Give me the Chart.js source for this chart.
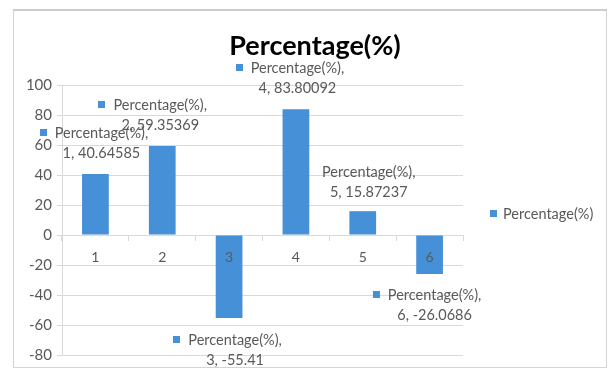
<!DOCTYPE html>
<html>
<head>
<meta charset="utf-8">
<script src="https://cdn.jsdelivr.net/npm/chart.js@4/dist/chart.umd.min.js"></script>
<style>
  html, body { margin: 0; padding: 0; background: #fff; }
  #wrap { width: 615px; height: 371px; position: relative; }
</style>
</head>
<body>
<div id="wrap"><canvas id="c" width="615" height="371"></canvas></div>
<script>
// Series data
const seriesName = 'Percentage(%)';
const categories = ['1', '2', '3', '4', '5', '6'];
const percentages = [40.64585, 59.35369, -55.41, 83.80092, 15.87237, -26.0686];
const yTickValues = [-80, -60, -40, -20, 0, 20, 40, 60, 80, 100];

const barColor = '#4690d8';
const textColor = '#595959';
const gridColor = '#d9d9d9';
const fontFamily = 'Lato, "Liberation Sans", sans-serif';

// Callout placement relative to each bar's end (label style: series, category, value)
const calloutOffsets = [
  { dx: 6,   dy: -41, key: true },
  { dx: -2,  dy: -41, key: true },
  { dx: 6,   dy: 22,  key: true },
  { dx: 1.5, dy: -41, key: true },
  { dx: 6,   dy: -39, key: false },
  { dx: 5,   dy: 21,  key: true }
];

// Outer frame and the chart title, centred over the whole frame
const framePlugin = {
  id: 'frame',
  beforeDraw(chart) {
    const ctx = chart.ctx;
    ctx.save();
    ctx.fillStyle = '#fff';
    ctx.fillRect(0, 0, chart.width, chart.height);
    ctx.strokeStyle = '#d4d4d4';
    ctx.lineWidth = 1;
    ctx.strokeRect(13.5, 10.5, 593, 357);
    ctx.strokeStyle = '#cccccc';
    ctx.lineWidth = 2;
    ctx.beginPath();
    ctx.moveTo(13, 10);
    ctx.lineTo(607, 10);
    ctx.stroke();

    ctx.fillStyle = '#000';
    ctx.font = 'bold 27px ' + fontFamily;
    ctx.textAlign = 'center';
    ctx.textBaseline = 'middle';
    ctx.fillText(seriesName, 315, 46);
    ctx.restore();
  }
};

const calloutPlugin = {
  id: 'callouts',
  afterDraw(chart) {
    const ctx = chart.ctx;
    const meta = chart.getDatasetMeta(0);
    ctx.save();
    ctx.font = '14.5px ' + fontFamily;
    ctx.textBaseline = 'middle';
    ctx.textAlign = 'center';
    meta.data.forEach((bar, i) => {
      const o = calloutOffsets[i];
      const cx = bar.x + o.dx;
      const y1 = bar.y + o.dy;
      const y2 = y1 + 20;
      const line1 = seriesName + ',';
      const line2 = categories[i] + ', ' + percentages[i];
      const w1 = ctx.measureText(line1).width;
      ctx.fillStyle = textColor;
      ctx.fillText(line1, cx, y1);
      ctx.fillText(line2, cx, y2);
      if (o.key) {
        ctx.fillStyle = barColor;
        ctx.fillRect(Math.round(cx - w1 / 2 - 15), Math.round(y1 - 4), 7, 7);
      }
    });

    // Series legend to the right of the plot
    const a = chart.chartArea;
    const lx = a.right + 27;
    const ly = 214;
    ctx.fillStyle = barColor;
    ctx.fillRect(lx, ly - 4, 7, 7);
    ctx.fillStyle = textColor;
    ctx.textAlign = 'left';
    ctx.fillText(seriesName, lx + 13, ly);
    ctx.restore();
  }
};

new Chart(document.getElementById('c'), {
  type: 'bar',
  data: {
    labels: categories,
    datasets: [{
      label: seriesName,
      data: percentages,
      backgroundColor: barColor,
      borderWidth: 0,
      barPercentage: 0.4,
      categoryPercentage: 1.0
    }]
  },
  options: {
    responsive: false,
    animation: false,
    devicePixelRatio: 1,
    layout: { padding: { top: 85, left: 22, right: 152, bottom: 16 } },
    plugins: {
      legend: { display: false },
      tooltip: { enabled: false },
      title: { display: false }
    },
    scales: {
      x: {
        position: { y: 0 },
        offset: true,
        afterFit(scale) { scale.height = 0; },
        grid: {
          display: true,
          offset: true,
          drawOnChartArea: false,
          drawTicks: true,
          tickLength: 5,
          color: gridColor
        },
        border: { display: true, color: gridColor, width: 1 },
        ticks: {
          z: 1,
          color: textColor,
          padding: 9,
          font: { family: fontFamily, size: 14 }
        }
      },
      y: {
        min: -80,
        max: 100,
        afterFit(scale) { scale.width = 40; },
        afterBuildTicks(scale) { scale.ticks = yTickValues.map(v => ({ value: v })); },
        grid: { color: gridColor, tickLength: 5, drawTicks: true },
        border: { display: true, color: gridColor, width: 1 },
        ticks: {
          color: textColor,
          padding: 5,
          font: { family: fontFamily, size: 15 }
        }
      }
    }
  },
  plugins: [framePlugin, calloutPlugin]
});
</script>
</body>
</html>
